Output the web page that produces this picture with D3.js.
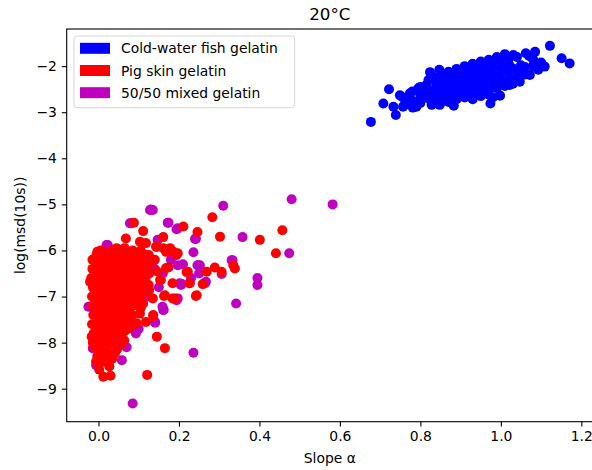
<!DOCTYPE html>
<html>
<head>
<meta charset="utf-8">
<script src="https://cdn.jsdelivr.net/npm/d3@7"></script>
<style>
  body { margin: 0; background: #fff; }
  svg { display: block; font-family: "DejaVu Sans", sans-serif; }
</style>
</head>
<body>
<div id="chart"></div>
<script>
// series names and colours (legend order)
const seriesNames = ["Cold-water fish gelatin", "Pig skin gelatin", "50/50 mixed gelatin"];
const seriesColors = ["#0000ff", "#ff0000", "#bf00bf"];

const xTicks = [0.0, 0.2, 0.4, 0.6, 0.8, 1.0, 1.2];
const yTicks = [-9, -8, -7, -6, -5, -4, -3, -2];

// [slope, log msd]
const fishPoints = [
  [0.677,-3.21],[0.722,-2.50],[0.739,-3.06],[0.708,-2.81],[0.749,-2.63],[0.781,-2.90],
  [0.824,-2.13],[0.847,-2.08],[0.883,-2.86],[0.828,-2.84],[1.122,-1.56],[1.151,-1.83],
  [1.171,-1.94],[1.109,-2.01],[1.093,-2.08],[1.085,-1.69],[1.062,-1.72],[1.031,-1.76],
  [0.974,-2.81],[0.998,-2.64],[1.072,-2.19],[1.047,-2.34],[1.022,-2.41],[0.733,-2.88],
  [0.757,-2.88],[0.753,-2.66],[0.774,-2.59],[0.795,-2.48],[0.815,-2.41],[0.848,-2.84],
  [0.76,-2.85],[0.76,-2.70],[0.78,-2.55],[0.78,-2.75],[0.79,-2.88],
  [0.80,-2.45],[0.80,-2.65],[0.80,-2.80],[0.81,-2.55],
  [0.82,-2.30],[0.82,-2.50],[0.82,-2.70],[0.83,-2.62],
  [0.84,-2.25],[0.84,-2.40],[0.84,-2.55],[0.84,-2.70],[0.85,-2.80],
  [0.86,-2.20],[0.86,-2.35],[0.86,-2.50],[0.86,-2.65],[0.87,-2.78],[0.87,-2.44],
  [0.88,-2.15],[0.88,-2.30],[0.88,-2.45],[0.88,-2.60],[0.89,-2.72],[0.89,-2.38],
  [0.90,-2.10],[0.90,-2.25],[0.90,-2.40],[0.90,-2.55],[0.91,-2.68],[0.91,-2.33],
  [0.92,-2.05],[0.92,-2.20],[0.92,-2.35],[0.92,-2.50],[0.93,-2.63],[0.93,-2.28],
  [0.94,-2.00],[0.94,-2.15],[0.94,-2.30],[0.94,-2.45],[0.95,-2.58],[0.95,-2.23],
  [0.96,-1.95],[0.96,-2.10],[0.96,-2.25],[0.96,-2.40],[0.97,-2.53],[0.97,-2.18],
  [0.98,-1.90],[0.98,-2.05],[0.98,-2.20],[0.98,-2.35],[0.99,-2.48],[0.98,-2.68],
  [1.00,-1.85],[1.00,-2.00],[1.00,-2.15],[1.00,-2.30],[1.01,-2.43],
  [1.02,-1.82],[1.02,-1.96],[1.02,-2.10],[1.02,-2.25],[1.03,-2.38],
  [1.04,-1.80],[1.04,-2.08],[1.04,-2.22],[1.05,-2.12],
  [1.06,-2.02],[1.06,-2.18],[1.08,-1.85],[1.08,-2.00],[1.10,-1.92],
  [0.85,-2.18],[0.87,-2.12],[0.89,-2.06],[0.91,-2.00],[0.93,-1.95],[0.95,-1.90],
  [0.97,-1.86],[0.99,-1.80],[1.01,-1.74],[0.95,-2.65],[0.93,-2.72],[0.97,-2.62],
  [1.03,-2.05],[1.05,-1.98],[1.09,-1.95],[1.07,-1.78]
];

const pigPoints = [
  // dense core
  [-0.015,-6.20],[-0.015,-6.40],[-0.018,-6.60],[-0.014,-6.80],[-0.016,-7.00],[-0.015,-7.20],
  [-0.013,-7.40],[-0.016,-7.60],[-0.012,-7.80],[-0.014,-8.00],
  [0.005,-6.00],[0.006,-6.20],[0.004,-6.40],[0.005,-6.60],[0.007,-6.80],[0.004,-7.00],
  [0.005,-7.20],[0.006,-7.40],[0.004,-7.60],[0.005,-7.80],[0.006,-8.00],[0.004,-8.20],[0.005,-8.40],
  [0.025,-6.05],[0.024,-6.25],[0.026,-6.45],[0.025,-6.65],[0.024,-6.85],[0.026,-7.05],
  [0.025,-7.25],[0.024,-7.45],[0.026,-7.65],[0.025,-7.85],[0.024,-8.05],[0.026,-8.25],[0.025,-8.45],
  [0.045,-5.95],[0.044,-6.15],[0.046,-6.35],[0.045,-6.55],[0.044,-6.75],[0.046,-6.95],
  [0.045,-7.15],[0.044,-7.35],[0.046,-7.55],[0.045,-7.75],[0.044,-7.95],[0.046,-8.15],
  [0.065,-5.95],[0.064,-6.15],[0.066,-6.35],[0.065,-6.55],[0.064,-6.75],[0.066,-6.95],
  [0.065,-7.15],[0.064,-7.35],[0.066,-7.55],[0.065,-7.75],[0.064,-7.95],
  [0.085,-6.00],[0.084,-6.20],[0.086,-6.40],[0.085,-6.60],[0.084,-6.80],[0.086,-7.00],
  [0.085,-7.20],[0.084,-7.40],[0.086,-7.60],
  [0.105,-6.00],[0.104,-6.20],[0.106,-6.40],[0.105,-6.60],[0.104,-6.80],[0.106,-7.00],[0.105,-7.25],
  [0.125,-6.10],[0.124,-6.30],[0.126,-6.50],[0.125,-6.75],
  // filling the gaps in the core
  [-0.005,-6.10],[-0.005,-6.30],[-0.006,-6.50],[-0.004,-6.70],[-0.005,-6.90],[-0.006,-7.10],
  [-0.005,-7.30],[-0.004,-7.50],[-0.005,-7.70],[-0.006,-7.90],[-0.004,-8.10],[-0.003,-8.30],
  [0.015,-6.10],[0.016,-6.30],[0.014,-6.50],[0.015,-6.70],[0.016,-6.90],[0.014,-7.10],
  [0.015,-7.30],[0.016,-7.50],[0.014,-7.70],[0.015,-7.90],[0.016,-8.10],[0.014,-8.30],
  [0.035,-6.00],[0.036,-6.20],[0.034,-6.40],[0.035,-6.60],[0.036,-6.80],[0.034,-7.00],
  [0.035,-7.20],[0.036,-7.40],[0.034,-7.60],[0.035,-7.80],[0.036,-8.00],[0.034,-8.35],
  [0.055,-6.05],[0.056,-6.25],[0.054,-6.45],[0.055,-6.65],[0.056,-6.85],[0.054,-7.05],
  [0.055,-7.25],[0.056,-7.45],[0.054,-7.65],[0.055,-7.85],[0.056,-8.05],
  [0.075,-6.05],[0.076,-6.25],[0.074,-6.45],[0.075,-6.65],[0.076,-6.85],[0.074,-7.05],
  [0.075,-7.25],[0.076,-7.45],[0.074,-7.70],
  [0.095,-6.10],[0.096,-6.30],[0.094,-6.50],[0.095,-6.70],[0.096,-6.90],[0.094,-7.10],
  [0.115,-6.10],[0.116,-6.30],[0.114,-6.50],[0.115,-6.70],[0.114,-6.90],
  // around the core
  [-0.003,-6.03],[-0.021,-6.68],[-0.010,-6.86],[-0.010,-7.83],[-0.006,-8.41],[0.002,-8.59],
  [0.035,-8.23],[0.027,-8.52],[-0.010,-8.09],[-0.017,-7.87],[0.012,-8.41],[0.041,-8.23],
  [0.058,-7.87],[0.012,-8.74],[0.030,-8.72],[0.121,-8.70],[0.145,-7.87],[0.165,-8.12],
  [0.103,-7.37],[0.095,-7.58],[0.118,-7.55],[0.136,-7.40],[0.111,-7.15],
  [0.088,-5.40],[0.111,-5.58],[0.068,-5.74],[0.103,-5.81],[0.118,-5.84],[0.048,-5.99],
  [0.019,-6.03],[0.143,-5.92],[0.161,-5.71],[0.145,-5.92],[0.161,-5.95],[0.178,-5.95],
  [0.186,-6.03],[0.194,-6.10],[0.168,-6.03],[0.197,-6.06],[0.211,-5.48],[0.246,-5.60],
  [0.283,-5.28],[0.302,-5.70],[0.401,-5.77],[0.457,-5.56],[0.441,-6.06],
  [0.168,-6.38],[0.174,-6.37],[0.155,-6.64],[0.153,-6.64],[0.184,-6.71],[0.219,-6.47],
  [0.222,-6.46],[0.226,-6.71],[0.227,-6.71],[0.242,-6.99],[0.244,-6.97],[0.259,-6.73],
  [0.269,-6.46],[0.289,-6.37],[0.306,-6.46],[0.335,-6.32],[0.339,-6.39],
  [0.118,-6.57],[0.126,-6.86],[0.163,-6.99],[0.165,-6.97],[0.184,-7.04],[0.190,-7.04],
  [0.135,-7.04],[0.136,-7.42],[0.140,-6.20],[0.145,-6.45]
];

const mixedPoints = [
  [0.130,-5.11],[0.081,-5.41],[0.172,-5.40],[0.197,-5.52],[0.241,-5.74],[0.236,-6.04],
  [0.147,-5.77],[0.023,-5.88],[0.139,-6.39],[0.197,-6.32],[0.246,-6.32],[0.250,-6.50],
  [0.267,-6.68],[0.205,-6.75],[0.197,-7.04],[0.159,-7.22],[-0.019,-7.22],[-0.025,-7.22],
  [0.480,-4.89],[0.582,-5.00],[0.310,-5.03],[0.358,-5.71],[0.474,-6.06],[0.395,-6.60],
  [0.395,-6.75],[0.342,-7.15],[0.333,-6.21],[0.174,-5.40],[0.194,-5.54],[0.242,-5.75],
  [0.135,-5.12],[0.161,-7.29],[0.140,-7.55],[0.252,-6.32],[0.265,-6.71],[0.202,-6.71],
  [0.085,-9.32],[0.236,-8.22],[0.058,-8.38],[0.093,-7.80],[0.162,-7.29],[0.141,-7.57],
  [-0.014,-8.12],[-0.006,-8.49],[0.052,-8.05],[-0.013,-8.12],[-0.004,-8.49],
  [0.020,-5.88],[0.128,-5.12],[0.078,-5.41],[0.306,-6.51],[0.207,-6.73],[0.194,-7.08],
  [0.145,-5.92],[0.120,-6.10],[0.128,-6.39],[0.240,-5.75],[0.331,-6.21],[0.248,-6.32],
  [0.180,-6.20],[0.160,-6.50],[0.210,-6.30],[0.230,-6.60],[0.150,-6.80],[0.120,-7.00],
  [0.070,-8.10],[0.030,-8.30],[0.100,-7.70],[0.060,-7.60]
];

const width = 592, height = 470;
const margin = { top: 29, right: -1, bottom: 48.3, left: 66.7 };
const innerW = width - margin.left - margin.right;
const innerH = height - margin.top - margin.bottom;

const svg = d3.select("#chart").append("svg")
  .attr("width", width)
  .attr("height", height);

const g = svg.append("g")
  .attr("transform", `translate(${margin.left},${margin.top})`);

const x = d3.scaleLinear().domain([-0.079, 1.229]).range([0, innerW]);
const y = d3.scaleLinear().domain([-9.716, -1.194]).range([innerH, 0]);

// points: fish, then mixed, then pig on top
const layers = [
  { pts: fishPoints, color: seriesColors[0] },
  { pts: mixedPoints, color: seriesColors[2] },
  { pts: pigPoints, color: seriesColors[1] }
];
layers.forEach(l => {
  g.append("g").selectAll("circle")
    .data(l.pts)
    .join("circle")
    .attr("cx", d => x(d[0]))
    .attr("cy", d => y(d[1]))
    .attr("r", 5)
    .attr("fill", l.color);
});

// axes
const fmtMinus = v => (v < 0 ? "\u2212" + Math.abs(v) : String(v));
const xAxis = g.append("g")
  .attr("transform", `translate(0,${innerH})`)
  .call(d3.axisBottom(x).tickValues(xTicks).tickFormat(d3.format(".1f")).tickSize(4.9).tickPadding(4.9));
const yAxis = g.append("g")
  .call(d3.axisLeft(y).tickValues(yTicks).tickFormat(fmtMinus).tickSize(4.9).tickPadding(4.9));
[xAxis, yAxis].forEach(a => {
  a.select(".domain").remove();
  a.selectAll("line").attr("stroke", "#000").attr("stroke-width", 1.1);
  a.selectAll("text").attr("fill", "#000").style("font-size", "13.9px")
    .style("font-family", "DejaVu Sans");
});

// spines
g.append("rect")
  .attr("x", 0).attr("y", 0)
  .attr("width", innerW).attr("height", innerH)
  .attr("fill", "none").attr("stroke", "#000").attr("stroke-width", 1.1);

// title and labels
svg.append("text")
  .attr("x", margin.left + innerW / 2).attr("y", 20)
  .attr("text-anchor", "middle")
  .style("font-size", "16.7px")
  .text("20°C");

svg.append("text")
  .attr("x", margin.left + innerW / 2).attr("y", 463)
  .attr("text-anchor", "middle")
  .style("font-size", "13.9px")
  .text("Slope α");

svg.append("text")
  .attr("transform", `translate(25,${margin.top + innerH / 2}) rotate(-90)`)
  .attr("text-anchor", "middle")
  .style("font-size", "13.9px")
  .text("log(msd(10s))");

// legend
const legend = svg.append("g").attr("transform", "translate(74,36)");
legend.append("rect")
  .attr("width", 220.7).attr("height", 71.7)
  .attr("rx", 3).attr("ry", 3)
  .attr("fill", "#fff").attr("fill-opacity", 0.8)
  .attr("stroke", "#d6d6d6").attr("stroke-width", 1);
seriesNames.forEach((name, i) => {
  const row = legend.append("g").attr("transform", `translate(0,${12.3 + i * 22.2})`);
  row.append("rect")
    .attr("x", 6).attr("y", -5.5)
    .attr("width", 30).attr("height", 11)
    .attr("fill", seriesColors[i]);
  row.append("text")
    .attr("x", 47).attr("y", 0)
    .attr("dy", "0.36em")
    .style("font-size", "13.9px")
    .text(name);
});
</script>
</body>
</html>
